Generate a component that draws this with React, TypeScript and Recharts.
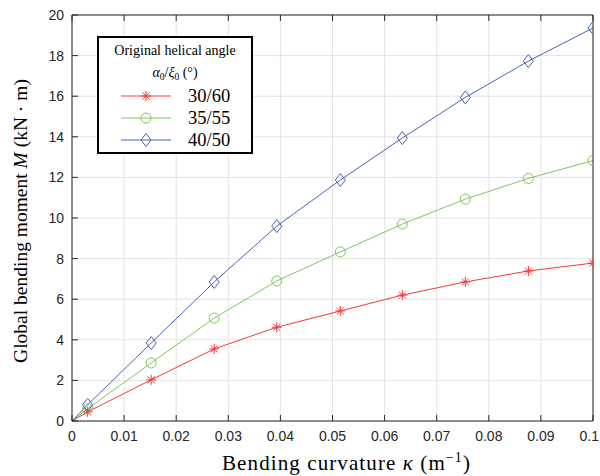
import {
  LineChart,
  Line,
  XAxis,
  YAxis,
  CartesianGrid,
} from "recharts";

const curvature = [0, 0.003, 0.0152, 0.0273, 0.0393, 0.0515, 0.0634, 0.0755, 0.0876, 0.1];
const moment3060 = [0, 0.45, 2.03, 3.55, 4.62, 5.42, 6.2, 6.85, 7.39, 7.78];
const moment3555 = [0, 0.6, 2.86, 5.07, 6.9, 8.33, 9.7, 10.93, 11.95, 12.83];
const moment4050 = [0, 0.8, 3.84, 6.85, 9.6, 11.87, 13.94, 15.94, 17.73, 19.36];
const xTicks = [0, 0.01, 0.02, 0.03, 0.04, 0.05, 0.06, 0.07, 0.08, 0.09, 0.1];
const yTicks = [0, 2, 4, 6, 8, 10, 12, 14, 16, 18, 20];

const data = curvature.map((k, i) => ({
  k,
  a: moment3060[i],
  b: moment3555[i],
  c: moment4050[i],
}));

const RED = "#f23a3a";
const GREEN = "#7cc95a";
const BLUE = "#4765b5";
const INK = "#262626";
const SERIF = "'Liberation Serif', 'Times New Roman', serif";
const SANS = "'Liberation Sans', Arial, Helvetica, sans-serif";

function Star({ cx, cy, s = 5, color = RED }: any) {
  const d = s * 0.7071;
  return (
    <g stroke={color} strokeWidth={1} fill="none">
      <line x1={cx - s} y1={cy} x2={cx + s} y2={cy} />
      <line x1={cx} y1={cy - s} x2={cx} y2={cy + s} />
      <line x1={cx - d} y1={cy - d} x2={cx + d} y2={cy + d} />
      <line x1={cx - d} y1={cy + d} x2={cx + d} y2={cy - d} />
    </g>
  );
}

function Circle({ cx, cy, r = 5, color = GREEN }: any) {
  return <circle cx={cx} cy={cy} r={r} stroke={color} strokeWidth={1} fill="none" />;
}

function Diamond({ cx, cy, w = 5, h = 6.5, color = BLUE }: any) {
  return (
    <path
      d={`M${cx},${cy - h}L${cx + w},${cy}L${cx},${cy + h}L${cx - w},${cy}Z`}
      stroke={color}
      strokeWidth={1}
      fill="none"
    />
  );
}

const fmtX = (v: number) => (v === 0 ? "0" : String(+v.toFixed(2)));

function BottomTick({ x, y, payload, index }: any) {
  const last = index === xTicks.length - 1;
  return (
    <g>
      <line x1={x} y1={y} x2={x} y2={y - 6} stroke={INK} />
      <text
        x={last ? x + 6 : x}
        y={y + 20}
        textAnchor={last ? "end" : "middle"}
        fill={INK}
        fontSize={14}
        fontFamily={SANS}
      >
        {fmtX(payload.value)}
      </text>
    </g>
  );
}

function TopTick({ x, y }: any) {
  return <line x1={x} y1={y} x2={x} y2={y + 6} stroke={INK} />;
}

function LeftTick({ x, y, payload }: any) {
  return (
    <g>
      <line x1={x} y1={y} x2={x + 6} y2={y} stroke={INK} />
      <text x={x - 8} y={y + 5} textAnchor="end" fill={INK} fontSize={14} fontFamily={SANS}>
        {payload.value}
      </text>
    </g>
  );
}

function RightTick({ x, y }: any) {
  return <line x1={x} y1={y} x2={x - 6} y2={y} stroke={INK} />;
}

function LegendBox() {
  const rows = [
    { label: "30/60", color: RED, M: Star },
    { label: "35/55", color: GREEN, M: Circle },
    { label: "40/50", color: BLUE, M: Diamond },
  ];
  return (
    <svg width={156} height={118} style={{ display: "block" }}>
      <rect x={1} y={1} width={154} height={116} fill="#fff" stroke="#000" strokeWidth={2} />
      <text x={78} y={19} textAnchor="middle" fontSize={14} fontFamily={SERIF} fill="#000">
        Original helical angle
      </text>
      <text x={78} y={41} textAnchor="middle" fontSize={14} fontFamily={SERIF} fill="#000">
        <tspan fontStyle="italic">α</tspan>
        <tspan fontSize={9.5} dy={3}>0</tspan>
        <tspan dy={-3}>/</tspan>
        <tspan fontStyle="italic">ξ</tspan>
        <tspan fontSize={9.5} dy={3}>0</tspan>
        <tspan dy={-3}> (°)</tspan>
      </text>
      {rows.map((r, i) => {
        const cy = 60 + i * 22;
        const M = r.M;
        return (
          <g key={r.label}>
            <line x1={24} y1={cy} x2={74} y2={cy} stroke={r.color} strokeWidth={1} />
            <M cx={49} cy={cy} color={r.color} />
            <text x={91} y={cy + 6} fontSize={18.5} fontFamily={SERIF} fill="#000">
              {r.label}
            </text>
          </g>
        );
      })}
    </svg>
  );
}

export default function App() {
  return (
    <div style={{ position: "absolute", left: 0, top: 0, width: 600, height: 476, background: "#fff" }}>
      <LineChart
        width={600}
        height={476}
        data={data}
        margin={{ top: 0, right: 0, bottom: 0, left: 0 }}
      >
        <CartesianGrid stroke="#e3e3e3" xAxisId="b" yAxisId="l" />
        <XAxis
          xAxisId="b"
          dataKey="k"
          type="number"
          domain={[0, 0.1]}
          ticks={xTicks}
          interval={0}
          height={55}
          tickSize={0}
          tickMargin={0}
          tick={<BottomTick />}
          axisLine={{ stroke: INK }}
          allowDataOverflow
        />
        <XAxis
          xAxisId="t"
          orientation="top"
          dataKey="k"
          type="number"
          domain={[0, 0.1]}
          ticks={xTicks}
          interval={0}
          height={15}
          tickSize={0}
          tickMargin={0}
          tick={<TopTick />}
          axisLine={{ stroke: INK }}
        />
        <YAxis
          yAxisId="l"
          type="number"
          domain={[0, 20]}
          ticks={yTicks}
          interval={0}
          width={72}
          tickSize={0}
          tickMargin={0}
          tick={<LeftTick />}
          axisLine={{ stroke: INK }}
        />
        <YAxis
          yAxisId="r"
          orientation="right"
          type="number"
          domain={[0, 20]}
          ticks={yTicks}
          interval={0}
          width={7}
          tickSize={0}
          tickMargin={0}
          tick={<RightTick />}
          axisLine={{ stroke: INK }}
        />
        <Line
          xAxisId="b"
          yAxisId="l"
          dataKey="a"
          type="linear"
          stroke={RED}
          strokeWidth={1}
          dot={(p: any) => (p.index === 0 ? <g key={p.index} /> : <Star key={p.index} cx={p.cx} cy={p.cy} />)}
          isAnimationActive={false}
        />
        <Line
          xAxisId="b"
          yAxisId="l"
          dataKey="b"
          type="linear"
          stroke={GREEN}
          strokeWidth={1}
          dot={(p: any) => (p.index === 0 ? <g key={p.index} /> : <Circle key={p.index} cx={p.cx} cy={p.cy} />)}
          isAnimationActive={false}
        />
        <Line
          xAxisId="b"
          yAxisId="l"
          dataKey="c"
          type="linear"
          stroke={BLUE}
          strokeWidth={1}
          dot={(p: any) => (p.index === 0 ? <g key={p.index} /> : <Diamond key={p.index} cx={p.cx} cy={p.cy} />)}
          isAnimationActive={false}
        />
      </LineChart>
      <div style={{ position: "absolute", left: 97, top: 36 }}>
        <LegendBox />
      </div>
      <svg
        width={600}
        height={476}
        style={{ position: "absolute", left: 0, top: 0, pointerEvents: "none" }}
      >
        <text x={222} y={470} fontSize={21} letterSpacing={1.1} fontFamily={SERIF} fill="#000">
          Bending curvature <tspan fontStyle="italic">κ</tspan> (m
          <tspan fontSize={14} dy={-8}>−1</tspan>
          <tspan dy={8}>)</tspan>
        </text>
        <text
          transform="translate(27,221) rotate(-90)"
          textAnchor="middle"
          fontSize={19.5}
          fontFamily={SERIF}
          fill="#000"
        >
          Global bending moment <tspan fontStyle="italic">M</tspan> (kN · m)
        </text>
      </svg>
    </div>
  );
}
